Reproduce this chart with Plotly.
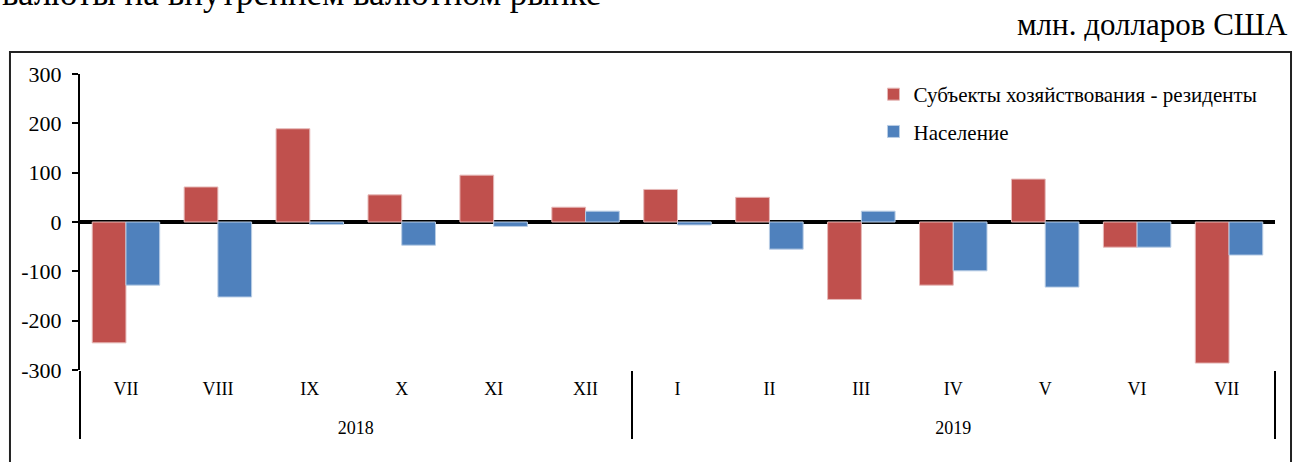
import plotly.graph_objects as go

# leading line break in the year labels drops them one line lower, as in the reference
years = ["<br>2018"] * 6 + ["<br>2019"] * 7
# the trailing space keeps the second "VII" distinct so it stays last in 2019
months = ["VII", "VIII", "IX", "X", "XI", "XII", "I", "II", "III", "IV", "V", "VI", "VII "]
residents = [-245, 71, 189, 55, 95, 30, 66, 50, -157, -128, 87, -51, -286]
population = [-128, -152, -5, -47, -9, 22, -6, -55, 22, -99, -132, -51, -67]
y_ticks = [300, 200, 100, 0, -100, -200, -300]

FONT = "Liberation Serif"
RED = "#C0504D"
BLUE = "#4F81BD"

fig = go.Figure()
fig.add_trace(go.Bar(
    x=[years, months], y=residents, name="Субъекты хозяйствования - резиденты",
    marker=dict(color=RED, line=dict(color="#E6B9B8", width=1)), legendgroup="a",
))
fig.add_trace(go.Bar(
    x=[years, months], y=population, name="Население",
    marker=dict(color=BLUE, line=dict(color="#B9CDE5", width=1)), legendgroup="b",
))

fig.update_layout(
    width=1296, height=462,
    margin=dict(l=80, r=21, t=74, b=92),
    paper_bgcolor="white", plot_bgcolor="white",
    barmode="group", bargap=0.266, bargroupgap=0,
    font=dict(family=FONT, color="black"),
    showlegend=True,
    legend=dict(
        x=0.664, y=1.0, xanchor="left", yanchor="top",
        font=dict(family=FONT, size=21, color="black"),
        bgcolor="rgba(0,0,0,0)", tracegroupgap=7,
    ),
    xaxis=dict(
        type="multicategory", showline=False, ticks="", showgrid=False,
        zeroline=False, showdividers=True, dividercolor="black", dividerwidth=2,
        tickfont=dict(family=FONT, size=18, color="black"),
        ticklabelstandoff=6,
    ),
    yaxis=dict(
        range=[-300, 300], tickvals=y_ticks, ticktext=[str(v) for v in y_ticks],
        showline=True, linecolor="black", linewidth=2,
        ticks="outside", ticklen=6, tickwidth=2, tickcolor="black",
        showgrid=False, zeroline=True, zerolinecolor="black", zerolinewidth=4,
        tickfont=dict(family=FONT, size=22, color="black"),
        ticklabelstandoff=6,
    ),
    shapes=[dict(
        type="rect", xref="paper", yref="paper",
        x0=-0.0586, x1=1.0134, y0=-0.4, y1=1.0743,
        line=dict(color="#222", width=2), fillcolor="rgba(0,0,0,0)", layer="below",
    )],
    annotations=[
        dict(text="валюты на внутреннем валютном рынке", xref="paper", yref="paper",
             x=-0.067, y=1.201, xanchor="left", yanchor="bottom", showarrow=False,
             font=dict(family=FONT, size=35, color="black")),
        dict(text="млн. долларов США", xref="paper", yref="paper",
             x=1.0125, y=1.101, xanchor="right", yanchor="bottom", showarrow=False,
             font=dict(family=FONT, size=31, color="black")),
    ],
)

fig.write_html("out.html", config={"displayModeBar": False},
               post_script="document.body.style.margin='0';")
